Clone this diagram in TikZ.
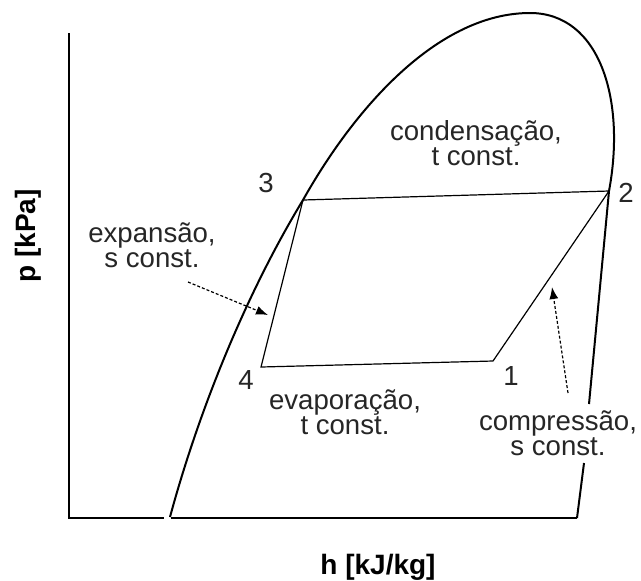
\documentclass[tikz,border=0pt]{standalone}
\usepackage{fontspec}
\setmainfont{Liberation Sans}
\usetikzlibrary{arrows.meta}

\tikzset{
  curva/.style={line width=1pt},
  ciclo/.style={line width=0.6pt},
  seta/.style={line width=0.6pt, dash pattern=on 1.5pt off 1pt,
    -{Latex[length=6pt,width=4.5pt]}},
  rotulo/.style={font=\fontsize{13.8}{12.5}\selectfont, align=center, text=black!85},
  eixo/.style={font=\bfseries\fontsize{14}{16}\selectfont}
}

\begin{document}
\begin{tikzpicture}[x=0.5pt,y=-0.5pt]
  \useasboundingbox (0,0) rectangle (641,580);
  % eixos
  \coordinate (O) at (69,518);
  \draw[curva] (69,33) -- (O) -- (164,518);
  \draw[curva] (171,518) -- (577,518);
  \node[eixo] (h) at (378,567) {h [kJ/kg]};
  \node[eixo, rotate=90] (p) at (28,236) {p [kPa]};
  % ciclo
  \coordinate (p1) at (493,361);
  \coordinate (p2) at (609,191);
  \coordinate (p3) at (303,200);
  \coordinate (p4) at (261,367);
  \coordinate (topo) at (530,13);
  % curva de saturacao
  \draw[curva] (170,517) .. controls (197,417) and (243,299) .. (p3)
    .. controls (357,104) and (440,13) .. (topo)
    .. controls (600,13) and (626,100) .. (p2) -- (589,404);
  \draw[curva] (584,463) -- (577,518);
  \draw[ciclo] (p3) -- (p2) -- (p1) -- (p4) -- cycle;
  \node[rotulo] (n1) at (511,376) {1};
  \node[rotulo] (n2) at (626,193) {2};
  \node[rotulo] (n3) at (266,183) {3};
  \node[rotulo] (n4) at (246,380) {4};
  % processos
  \node[rotulo] (cond) at (476,143) {condensação,\\t const.};
  \node[rotulo] (exp) at (152,245) {expansão,\\s const.};
  \node[rotulo] (evap) at (345,412) {evaporação,\\t const.};
  \node[rotulo] (comp) at (558,433) {compressão,\\s const.};
  \coordinate (ea) at (188,282);
  \coordinate (eb) at (268,315);
  \coordinate (ca) at (568,393);
  \coordinate (cb) at (552,287);
  \draw[seta] (ea) -- (eb);
  \draw[seta] (ca) -- (cb);
\end{tikzpicture}
\end{document}
